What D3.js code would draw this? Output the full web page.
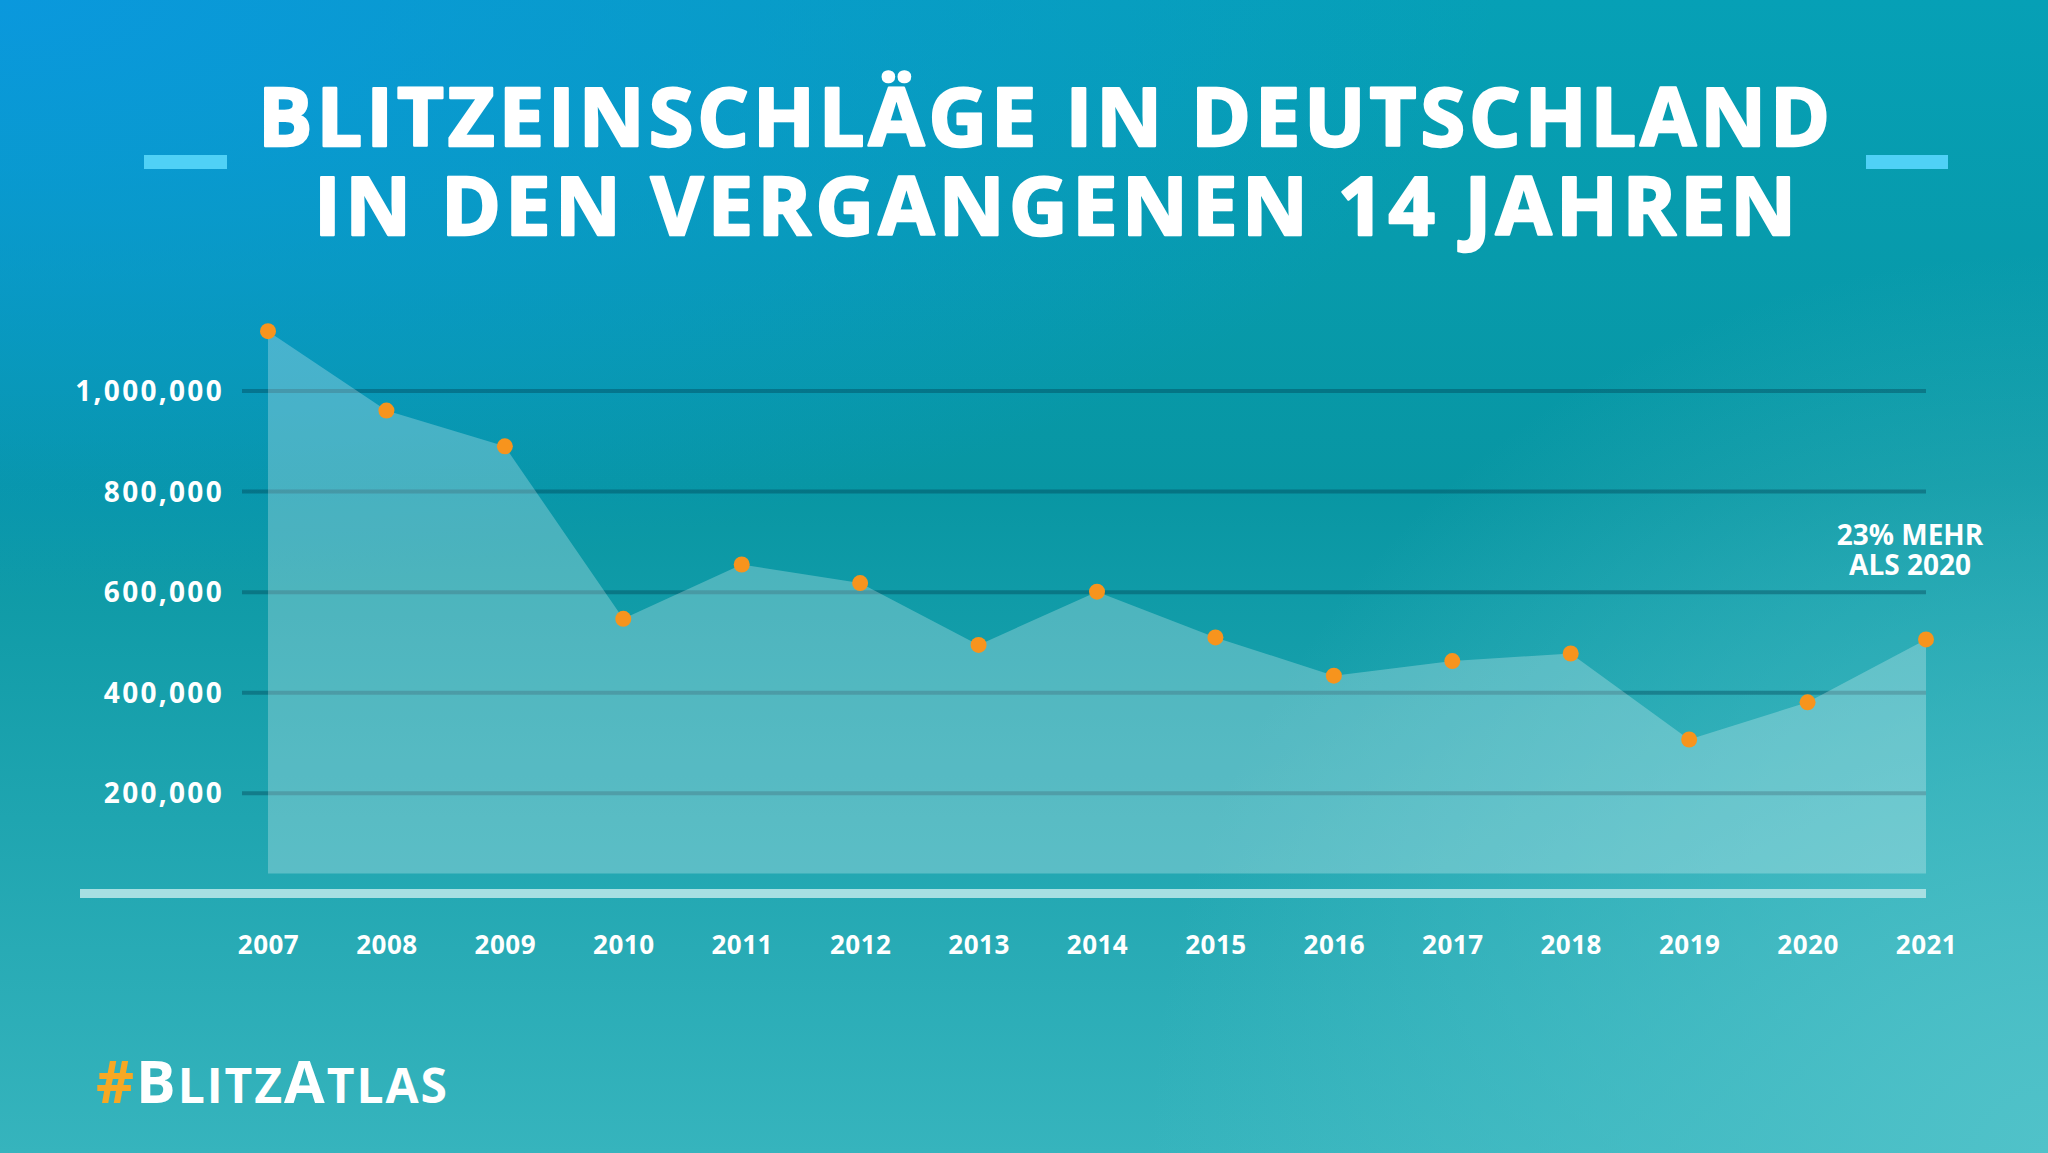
<!DOCTYPE html>
<html>
<head>
<meta charset="utf-8">
<script src="https://cdn.jsdelivr.net/npm/d3@7"></script>
<style>
  html, body { margin: 0; padding: 0; background: #0898a8; }
  svg { display: block; }
  text { font-family: "Open Sans", "Noto Sans", sans-serif; font-weight: 700; fill: #ffffff; }
</style>
</head>
<body>
<svg id="chart" width="2048" height="1153"></svg>
<script>
// ---- Data ----
const years = ["2007","2008","2009","2010","2011","2012","2013","2014","2015","2016","2017","2018","2019","2020","2021"];
const strikes = [1118000, 960000, 889000, 546000, 654000, 617000, 494000, 600000, 509000, 433000, 462000, 477000, 306000, 380000, 505000];
const yTicks = [200000, 400000, 600000, 800000, 1000000];
const titleLines = ["BLITZEINSCHLÄGE IN DEUTSCHLAND", "IN DEN VERGANGENEN 14 JAHREN"];
const noteLines = ["23% MEHR", "ALS 2020"];

// ---- Setup ----
const W = 2048, H = 1153;
const svg = d3.select("#chart");
const defs = svg.append("defs");

// background gradients
const lg = defs.append("linearGradient").attr("id", "bgV").attr("x1", 0).attr("y1", 0).attr("x2", 0).attr("y2", 1);
lg.append("stop").attr("offset", "0%").attr("stop-color", "#06a0b6");
lg.append("stop").attr("offset", "42%").attr("stop-color", "#0896a3");
lg.append("stop").attr("offset", "100%").attr("stop-color", "#36b4bd");

const rgBlue = defs.append("radialGradient").attr("id", "bgBlue")
  .attr("gradientUnits", "userSpaceOnUse").attr("cx", 0).attr("cy", 0).attr("r", 1)
  .attr("gradientTransform", "scale(1500,600)");
rgBlue.append("stop").attr("offset", "0%").attr("stop-color", "#0a98dd").attr("stop-opacity", 1);
rgBlue.append("stop").attr("offset", "100%").attr("stop-color", "#0a98dd").attr("stop-opacity", 0);

const rgLight = defs.append("radialGradient").attr("id", "bgLight")
  .attr("gradientUnits", "userSpaceOnUse").attr("cx", W).attr("cy", H).attr("r", 900);
rgLight.append("stop").attr("offset", "0%").attr("stop-color", "#50c2c9").attr("stop-opacity", 1);
rgLight.append("stop").attr("offset", "100%").attr("stop-color", "#50c2c9").attr("stop-opacity", 0);

svg.append("rect").attr("width", W).attr("height", H).attr("fill", "url(#bgV)");
svg.append("rect").attr("width", W).attr("height", H).attr("fill", "url(#bgBlue)");
svg.append("rect").attr("width", W).attr("height", H).attr("fill", "url(#bgLight)");

// ---- Scales ----
const plotLeft = 242, plotRight = 1926;
const x = d3.scalePoint().domain(years).range([268, 1926]);
const y = d3.scaleLinear().domain([0, 1000000]).range([893.4, 390.5]);

// ---- Gridlines ----
const grid = svg.append("g").attr("class", "grid")
  .attr("transform", `translate(${plotLeft},0)`)
  .call(d3.axisRight(y).tickValues(yTicks).tickSize(plotRight - plotLeft).tickFormat(""));
grid.select(".domain").remove();
grid.selectAll(".tick line").attr("stroke", "rgba(0,60,80,0.38)").attr("stroke-width", 4);

// ---- Area ----
const baseGap = 20;
const area = d3.area()
  .x((d, i) => x(years[i]))
  .y0(() => y(0) - baseGap)
  .y1(d => y(d));
svg.append("path").datum(strikes)
  .attr("d", area)
  .attr("fill", "rgba(255,255,255,0.26)");

// ---- Y axis labels ----
const yAx = svg.append("g")
  .attr("transform", `translate(${plotLeft},0)`)
  .call(d3.axisLeft(y).tickValues(yTicks).tickSize(0).tickPadding(18).tickFormat(d3.format(",")));
yAx.select(".domain").remove();
yAx.selectAll("text").attr("font-size", 28).attr("font-family", "Open Sans").attr("font-weight", 700)
  .attr("letter-spacing", 2.3).attr("fill", "#fff").attr("dy", "0.36em");

// ---- Base bar ----
svg.append("line")
  .attr("x1", 80).attr("x2", plotRight)
  .attr("y1", y(0)).attr("y2", y(0))
  .attr("stroke", "#a7dfe2").attr("stroke-width", 9);

// ---- X axis labels ----
const xAx = svg.append("g")
  .attr("transform", `translate(0,${y(0)})`)
  .call(d3.axisBottom(x).tickSize(0).tickPadding(42));
xAx.select(".domain").remove();
xAx.selectAll("text").attr("font-size", 26).attr("font-family", "Open Sans").attr("font-weight", 700)
  .attr("letter-spacing", 0.5).attr("fill", "#fff");

// ---- Dots ----
svg.append("g").selectAll("circle").data(strikes).join("circle")
  .attr("cx", (d, i) => x(years[i]))
  .attr("cy", d => y(d))
  .attr("r", 8)
  .attr("fill", "#f7941d");

// ---- Annotation ----
const note = svg.append("text").attr("text-anchor", "middle").attr("font-size", 28);
noteLines.forEach((t, i) => {
  note.append("tspan").attr("x", 1910).attr("y", 545 + i * 30).text(t);
});

// ---- Title ----
const titleSpecs = [
  { cx: 1044, base: 146, width: 1572 },
  { cx: 1055, base: 235, width: 1482 }
];
const title = svg.append("text")
  .attr("text-anchor", "middle")
  .attr("font-size", 81)
  .attr("stroke", "#ffffff")
  .attr("stroke-width", 2.5)
  .attr("stroke-linejoin", "round");
titleLines.forEach((t, i) => {
  const s = titleSpecs[i];
  title.append("tspan")
    .attr("x", s.cx).attr("y", s.base)
    .attr("textLength", s.width)
    .attr("lengthAdjust", "spacing")
    .text(t);
});
// title dashes
[[144, 227], [1866, 1948]].forEach(([a, b]) => {
  svg.append("rect").attr("x", a).attr("y", 155).attr("width", b - a).attr("height", 14).attr("fill", "#4fd1f6");
});

// ---- Hashtag ----
const tag = svg.append("text").attr("x", 96).attr("y", 1103).attr("font-size", 59)
  .attr("textLength", 351).attr("lengthAdjust", "spacing");
tag.append("tspan").attr("fill", "#f7a823").text("#");
tag.append("tspan").text("B");
tag.append("tspan").attr("font-size", 48).text("LITZ");
tag.append("tspan").text("A");
tag.append("tspan").attr("font-size", 48).text("TLAS");
</script>
</body>
</html>
